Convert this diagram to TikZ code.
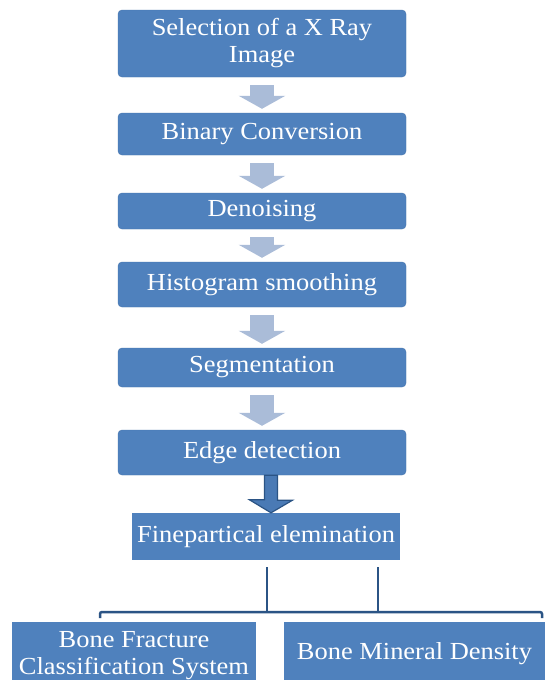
\documentclass[tikz,border=0pt]{standalone}
\usepackage{fontspec}
\usepackage{xcolor}
\usetikzlibrary{arrows.meta,calc}
\newfontfamily\boxfont[FakeStretch=1.08]{Liberation Serif}
\definecolor{boxblue}{HTML}{4F81BD}
\definecolor{boxedge}{HTML}{4675AE}
\definecolor{paleblue}{HTML}{AABCD8}
\definecolor{navy}{HTML}{2B5485}
\tikzset{
	stepbox/.style={rectangle,rounded corners=4pt,fill=boxblue,draw=boxedge,text=white,
		font=\boxfont\fontsize{24.5}{27}\selectfont,align=center,inner sep=0pt,minimum width=288pt},
	flatbox/.style={stepbox,rounded corners=0pt,draw=none},
	palearrow/.style={draw=paleblue,line width=24pt,shorten <=8pt,shorten >=4pt,
		-{Triangle[width=46pt,length=13pt,fill=paleblue]}},
	darkarrow/.style={fill=boxblue!85!navy,draw=navy,line width=1.2pt,line join=miter},
	link/.style={draw=navy,line width=2.5pt,rounded corners=2pt}
}
\begin{document}
\begin{tikzpicture}[x=1pt,y=-1pt]
				\useasboundingbox[fill=white] (0,0) rectangle (547,680);
				\clip (0,0) rectangle (547,680);
				\node[stepbox,minimum height=67pt] (b1) at (262,43.5) {Selection of a X Ray\\Image};
				\node[stepbox,minimum height=42pt] (b2) at (262,134) {Binary Conversion};
				\node[stepbox,minimum height=36pt] (b3) at (262,211) {Denoising};
				\node[stepbox,minimum height=45pt] (b4) at (262,284.5) {Histogram smoothing};
				\node[stepbox,minimum height=39pt] (b5) at (262,367.5) {Segmentation};
				\node[stepbox,minimum height=45pt] (b6) at (262,452.5) {Edge detection};
				\node[flatbox,minimum width=268pt,minimum height=47pt] (b7) at (266,536.5) {Finepartical elemination};
				\node[flatbox,minimum width=244pt,minimum height=68pt] (b8) at (134,656) {Bone Fracture\\Classification System};
				\node[flatbox,minimum width=261pt,minimum height=64pt] (b9) at (414.5,654) {Bone Mineral Density};
				\foreach \from/\to in {b1/b2,b2/b3,b3/b4,b4/b5,b5/b6}
					\draw[palearrow] (\from.south) -- (\to.north);
				\path (b6.south) ++(9,0) coordinate (dtop);
				\path (b7.north -| dtop) coordinate (dtip);
				\draw[darkarrow] (dtop) ++(-6.5,0) -- ++(13,0) -- ++(0,25) -- ++(15,0) -- (dtip)
					-- ++(-21.5,-13) -- ++(15,0) -- cycle;
				\coordinate (j1) at (267,612);
				\coordinate (j2) at (378,612);
				\coordinate (e1) at (100,612);
				\coordinate (e2) at (542,612);
				\draw[link,shorten <=7pt] (b7.south -| j1) -- (j1);
				\draw[link,shorten <=7pt] (b7.south -| j2) -- (j2);
				\draw[link] (e1) ++(0,6) -- (e1) -- (e2) -- ++(0,6);
		\end{tikzpicture}
\end{document}
